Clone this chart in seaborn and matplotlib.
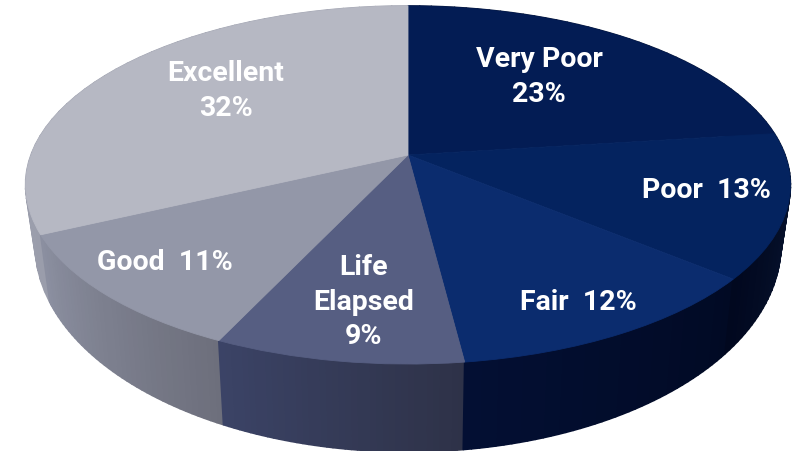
import numpy as np
import seaborn as sns
import matplotlib.pyplot as plt
from matplotlib.transforms import Transform

# slices clockwise from 12 o'clock
categories = ["Very Poor", "Poor", "Fair", "Life Elapsed", "Good", "Excellent"]
shares = [23, 13, 12, 9, 11, 32]
labels = ["Very Poor\n23%", "Poor  13%", "Fair  12%", "Life\nElapsed\n9%", "Good  11%", "Excellent\n32%"]

top_colors = ["#031c54", "#04235f", "#0b2c6e", "#565e82", "#9397a8", "#b6b8c3"]
side_start = ["#0a1a3f", "#0b1a38", "#010a24", "#2e3248", "#6d6f7c", "#9a9dab"]
side_end = ["#0b1a38", "#01081f", "#030f33", "#3b4366", "#8b8fa0", "#a0a3b0"]

label_pos = [(539, 77), (706, 191), (578, 303), (364, 302), (165, 262), (226, 91)]

# the tilted disc: apex of the slices in pixels and the perspective of the view
APEX = (408, 155)
RX, RY, TILT = 377, 174, 0.1676


def project(xy):
    xy = np.asarray(xy, dtype=float)
    w = 1 + TILT * xy[..., 1]
    return np.stack([APEX[0] + RX * xy[..., 0] / w, APEX[1] - RY * xy[..., 1] / w], axis=-1)


class TiltedDisc(Transform):
    input_dims = 2
    output_dims = 2
    is_separable = False
    has_inverse = False

    def transform_non_affine(self, values):
        return project(values)


def lower_rim(pts):
    # rim at the bottom of the side wall, drawn from the top rim
    dx = pts[..., 0] - APEX[0]
    dy = pts[..., 1] - APEX[1]
    return np.stack([APEX[0] + 0.975 * dx, APEX[1] + 1.157 * dy + 55], axis=-1)


sns.set_theme(style="white")
plt.rcParams["font.family"] = ["Roboto", "DejaVu Sans"]

fig = plt.figure(figsize=(7.92, 4.51), dpi=100)
ax = fig.add_axes([0, 0, 1, 1])

wedges, _ = ax.pie(shares, colors=top_colors, startangle=90, counterclock=False,
                   wedgeprops={"linewidth": 0.6, "zorder": 3})
ax.set_aspect("auto")
ax.set_xlim(0, 792)
ax.set_ylim(451, 0)
ax.axis("off")

for w, c in zip(wedges, top_colors):
    w.set_edgecolor(c)
    w.set_transform(TiltedDisc() + ax.transData)

# side wall, thin strips so each slice gets its horizontal shading
edges = np.cumsum([0] + shares) / sum(shares) * 2 * np.pi
for i in range(len(shares)):
    n = 40
    shades = sns.blend_palette([side_start[i], side_end[i]], n)
    angles = np.linspace(edges[i], edges[i + 1], n + 1)
    circle = np.stack([np.sin(angles), np.cos(angles)], axis=-1)
    top = project(circle)
    bottom = lower_rim(top)
    for j in range(n):
        quad = np.array([top[j], top[j + 1], bottom[j + 1], bottom[j]])
        ax.fill(quad[:, 0], quad[:, 1], color=shades[j], lw=1.2, zorder=1 + j * 0.001, joinstyle="round")

for text, (x, y) in zip(labels, label_pos):
    ax.text(x, y, text, color="white", fontsize=20.5, fontweight="bold", ha="center", va="center",
            linespacing=1.38, zorder=5)

fig.savefig("out.png", dpi=100)
